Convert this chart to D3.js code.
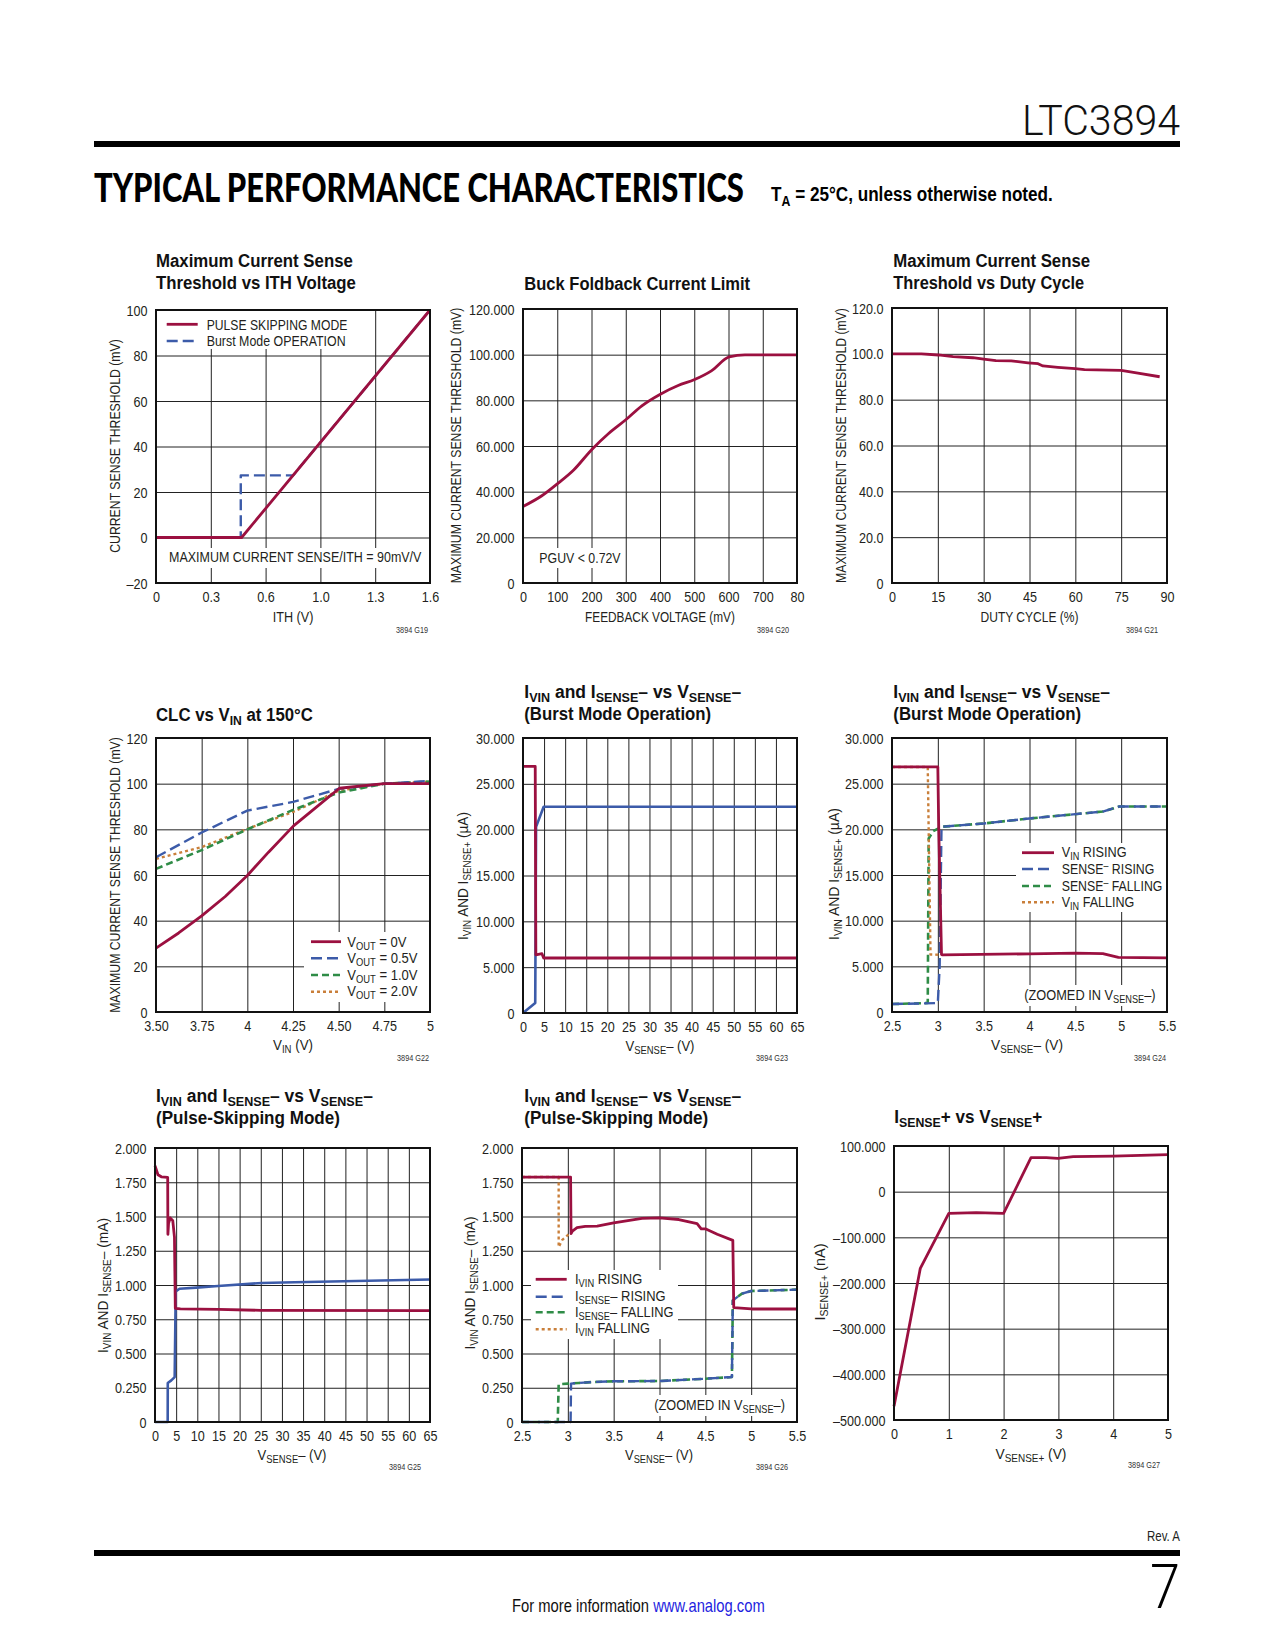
<!DOCTYPE html>
<html><head><meta charset="utf-8">
<script src="https://cdn.jsdelivr.net/npm/d3@7"></script>
<style>body{margin:0;background:#fff}svg{display:block}</style>
</head><body>
<svg id="page" width="1275" height="1650"></svg>
<script>
// ================= DATA =================
// G19 Maximum Current Sense Threshold vs ITH Voltage
const g19XTicks = [0, 0.32, 0.64, 0.96, 1.28, 1.6];
const g19XLabels = ["0", "0.3", "0.6", "1.0", "1.3", "1.6"];
const g19YTicks = [-20, 0, 20, 40, 60, 80, 100];
const g19YLabels = ["\u201320", "0", "20", "40", "60", "80", "100"];
const g19PulseX = [0, 0.50, 1.6];
const g19PulseY = [0, 0, 100];
const g19BurstX = [0, 0.495, 0.495, 0.80, 1.6];
const g19BurstY = [0, 0, 27.3, 27.3, 100];

// G20 Buck Foldback Current Limit
const g20XTicks = [0, 100, 200, 300, 400, 500, 600, 700, 800];
const g20XLabels = ["0", "100", "200", "300", "400", "500", "600", "700", "80"];
const g20YTicks = [0, 20, 40, 60, 80, 100, 120];
const g20YLabels = ["0", "20.000", "40.000", "60.000", "80.000", "100.000", "120.000"];
const g20FbX = [0, 55, 100, 148, 201, 250, 301, 347, 401, 453, 501, 550, 602, 648, 800];
const g20LimY = [33.5, 38.2, 43.4, 49.5, 58.5, 65.5, 71.6, 77.6, 82.7, 86.5, 89.1, 92.9, 99.0, 99.9, 99.9];

// G21 Maximum Current Sense Threshold vs Duty Cycle
const g21XTicks = [0, 15, 30, 45, 60, 75, 90];
const g21XLabels = ["0", "15", "30", "45", "60", "75", "90"];
const g21YTicks = [0, 20, 40, 60, 80, 100, 120];
const g21YLabels = ["0", "20.0", "40.0", "60.0", "80.0", "100.0", "120.0"];
const g21DutyX = [0, 9.6, 15.2, 20, 26.5, 30, 34, 39, 44.5, 47.8, 49.4, 54.3, 60, 63, 75, 80.5, 87.6];
const g21ThrY = [100, 100, 99.5, 98.8, 98.3, 97.7, 97.0, 96.9, 96.1, 95.7, 94.7, 94.1, 93.5, 93.1, 92.8, 91.6, 90.0];

// G22 CLC vs VIN at 150°C
const g22XTicks = [3.5, 3.75, 4, 4.25, 4.5, 4.75, 5];
const g22XLabels = ["3.50", "3.75", "4", "4.25", "4.50", "4.75", "5"];
const g22YTicks = [0, 20, 40, 60, 80, 100, 120];
const g22YLabels = ["0", "20", "40", "60", "80", "100", "120"];
const g22VinA = [3.5, 3.624, 3.75, 3.879, 4.0, 4.116, 4.253, 4.378, 4.504, 4.626, 4.75, 5];
const g22Vout0 = [28.0, 34.6, 42.1, 50.6, 59.8, 70.0, 81.5, 89.7, 98.0, 99.0, 100, 100];
const g22VinB = [3.5, 3.75, 4, 4.25, 4.5, 4.75, 5];
const g22Vout05 = [67.8, 78.6, 88.2, 92.0, 97.7, 100, 101.2];
const g22Vout10 = [62.7, 70.9, 80.0, 88.5, 96.1, 100, 100.9];
const g22Vout20 = [67.1, 72.2, 80.2, 87.6, 96.9, 100, 100.9];

// G23 IVIN and ISENSE- vs VSENSE- (Burst Mode)
const g23XTicks = [0, 5, 10, 15, 20, 25, 30, 35, 40, 45, 50, 55, 60, 65];
const g23XLabels = ["0", "5", "10", "15", "20", "25", "30", "35", "40", "45", "50", "55", "60", "65"];
const g23YTicks = [0, 5, 10, 15, 20, 25, 30];
const g23YLabels = ["0", "5.000", "10.000", "15.000", "20.000", "25.000", "30.000"];
const g23IvinX = [0, 2.9, 3.05, 4.5, 4.9, 65];
const g23IvinY = [26.9, 26.9, 6.35, 6.47, 6.0, 6.0];
const g23IsenX = [0, 2.9, 3.1, 4.9, 65];
const g23IsenY = [0, 1.1, 20.3, 22.5, 22.5];

// G24 zoomed burst mode
const g24XTicks = [2.5, 3, 3.5, 4, 4.5, 5, 5.5];
const g24XLabels = ["2.5", "3", "3.5", "4", "4.5", "5", "5.5"];
const g24YTicks = [0, 5, 10, 15, 20, 25, 30];
const g24YLabels = ["0", "5.000", "10.000", "15.000", "20.000", "25.000", "30.000"];
const g24VinRiseX = [2.5, 3.0, 3.01, 3.04, 3.05, 4.0, 4.5, 4.8, 4.97, 5.5];
const g24VinRiseY = [26.83, 26.83, 20.0, 6.3, 6.26, 6.37, 6.44, 6.4, 5.97, 5.93];
const g24SenRiseX = [2.5, 3.0, 3.02, 3.04, 3.5, 4.0, 4.5, 4.8, 4.98, 5.5];
const g24SenRiseY = [0.87, 0.98, 5.0, 20.28, 20.64, 21.19, 21.66, 21.95, 22.5, 22.5];
const g24SenFallX = [2.5, 2.89, 2.9, 2.95, 3.04, 3.5, 4.0, 4.5, 4.8, 4.98, 5.5];
const g24SenFallY = [0.87, 0.98, 19.0, 19.8, 20.28, 20.64, 21.19, 21.66, 21.95, 22.5, 22.5];
const g24VinFallX = [2.5, 2.89, 2.92, 3.05];
const g24VinFallY = [26.83, 26.83, 6.3, 6.26];

// G25 IVIN and ISENSE- vs VSENSE- (Pulse-Skipping)
const g25XTicks = [0, 5, 10, 15, 20, 25, 30, 35, 40, 45, 50, 55, 60, 65];
const g25XLabels = ["0", "5", "10", "15", "20", "25", "30", "35", "40", "45", "50", "55", "60", "65"];
const g25YTicks = [0, 0.25, 0.5, 0.75, 1, 1.25, 1.5, 1.75, 2];
const g25YLabels = ["0", "0.250", "0.500", "0.750", "1.000", "1.250", "1.500", "1.750", "2.000"];
const g25IvinX = [0, 0.7, 1.5, 3.0, 3.05, 3.2, 3.6, 4.2, 4.6, 4.8, 6, 15, 25, 65];
const g25IvinY = [1.87, 1.805, 1.79, 1.785, 1.37, 1.45, 1.49, 1.47, 1.35, 0.83, 0.825, 0.822, 0.815, 0.813];
const g25IsenX = [0, 3.0, 3.02, 3.85, 4.65, 4.9, 5.8, 9.8, 14.9, 25.2, 33, 65];
const g25IsenY = [0, 0, 0.285, 0.304, 0.328, 0.954, 0.973, 0.981, 0.993, 1.015, 1.02, 1.04];

// G26 zoomed pulse-skipping
const g26XTicks = [2.5, 3, 3.5, 4, 4.5, 5, 5.5];
const g26XLabels = ["2.5", "3", "3.5", "4", "4.5", "5", "5.5"];
const g26YTicks = [0, 0.25, 0.5, 0.75, 1, 1.25, 1.5, 1.75, 2];
const g26YLabels = ["0", "0.250", "0.500", "0.750", "1.000", "1.250", "1.500", "1.750", "2.000"];
const g26VinRiseX = [2.5, 3.03, 3.035, 3.05, 3.1, 3.19, 3.32, 3.5, 3.81, 4.0, 4.21, 4.41, 4.455, 4.5, 4.63, 4.8, 4.81, 5.0, 5.5];
const g26VinRiseY = [1.788, 1.788, 1.375, 1.394, 1.418, 1.428, 1.43, 1.453, 1.487, 1.49, 1.478, 1.448, 1.41, 1.41, 1.37, 1.326, 0.835, 0.825, 0.825];
const g26SenRiseX = [2.5, 3.03, 3.035, 3.12, 3.28, 3.5, 4.0, 4.5, 4.79, 4.8, 4.9, 5.0, 5.5];
const g26SenRiseY = [0, 0, 0.28, 0.285, 0.292, 0.297, 0.299, 0.316, 0.328, 0.888, 0.937, 0.956, 0.966];
const g26SenFallX = [2.5, 2.89, 2.9, 3.0, 3.12, 3.28, 3.5, 4.0, 4.5, 4.79, 4.8, 4.9, 5.0, 5.5];
const g26SenFallY = [0, 0, 0.275, 0.28, 0.285, 0.292, 0.297, 0.299, 0.316, 0.328, 0.888, 0.937, 0.956, 0.966];
const g26VinFallX = [2.5, 2.9, 2.9, 2.94, 3.01];
const g26VinFallY = [1.788, 1.788, 1.277, 1.33, 1.37];

// G27 ISENSE+ vs VSENSE+
const g27XTicks = [0, 1, 2, 3, 4, 5];
const g27XLabels = ["0", "1", "2", "3", "4", "5"];
const g27YTicks = [-500, -400, -300, -200, -100, 0, 100];
const g27YLabels = ["\u2013500.000", "\u2013400.000", "\u2013300.000", "\u2013200.000", "\u2013100.000", "0", "100.000"];
const g27VX = [0, 0.48, 1.0, 1.5, 2.0, 2.5, 2.78, 2.99, 3.27, 4.0, 5.0];
const g27IY = [-470, -168, -47.4, -46, -47.4, 74.5, 74.5, 73, 76.6, 78, 81];

// ================= DRAWING =================
const F = "'Liberation Sans', Arial, Helvetica, sans-serif";
const INK = '#231f20';
const TICK_K = 0.9;
const RED = '#9b1040', BLUE = '#3c5ba9', GREEN = '#2f8c47', ORANGE = '#c97f3a';
const ST = {
  red: {color: RED, dash: null, sw: 2.8},
  blueSolid: {color: BLUE, dash: null, sw: 2.6},
  blue: {color: BLUE, dash: '11,5', sw: 2.4},
  green: {color: GREEN, dash: '7,4', sw: 2.6},
  orange: {color: ORANGE, dash: '3,3', sw: 2.4}
};
const svg = d3.select('#page');

function txt(parent, x, y, parts, o = {}) {
  const fs = o.fs || 14;
  const g = parent.append('g').attr('transform', `translate(${x},${y})` + (o.rot ? ` rotate(${o.rot})` : ''));
  const t = g.append('text').attr('font-family', o.ff || F).attr('font-size', fs)
    .attr('font-weight', o.fw || 'normal').attr('fill', o.fill || INK)
    .attr('text-anchor', o.anchor || 'start');
  if (typeof parts === 'string') parts = [[parts]];
  let shift = 0;
  parts.forEach(p => {
    const ts = t.append('tspan').text(p[0]);
    let target = 0;
    if (p[1] === 'sub') { ts.attr('font-size', fs * 0.72); target = fs * 0.22; }
    if (p[1] === 'sup') { ts.attr('font-size', fs * 0.72); target = -fs * 0.34; }
    if (p[2]) ts.attr('fill', p[2]);
    if (target !== shift) { ts.attr('dy', target - shift); shift = target; }
  });
  if (o.w) {
    const w0 = t.node().getComputedTextLength();
    if (w0 > 0) t.attr('transform', `scale(${o.w / w0},1)`);
  }
  return t;
}

function panel(c) {
  const g = svg.append('g');
  const x = d3.scaleLinear().domain(c.xd).range([c.L, c.L + c.W]);
  const y = d3.scaleLinear().domain(c.yd).range([c.T + c.H, c.T]);
  const ax = g.append('g').attr('transform', `translate(0,${c.T + c.H})`)
    .call(d3.axisBottom(x).tickValues(c.xt).tickFormat((d, i) => c.xl[i]).tickSize(-c.H));
  const ay = g.append('g').attr('transform', `translate(${c.L},0)`)
    .call(d3.axisLeft(y).tickValues(c.yt).tickFormat((d, i) => c.yl[i]).tickSize(-c.W));
  [ax, ay].forEach(a => {
    a.select('.domain').remove();
    a.selectAll('line').attr('stroke', '#222').attr('stroke-width', 1);
    a.selectAll('text').attr('font-family', F).attr('font-size', 14).attr('fill', INK)
      .attr('transform', `scale(${TICK_K},1)`);
  });
  ax.selectAll('text').attr('y', 19.5).attr('dy', null);
  ay.selectAll('text').attr('x', -8.5 / TICK_K).attr('dy', '0.36em');
  (c.boxes || []).forEach(b => g.append('rect').attr('x', b[0]).attr('y', b[1])
    .attr('width', b[2]).attr('height', b[3]).attr('fill', '#fff'));
  c.series.forEach(s => {
    const line = d3.line().x(d => x(d[0])).y(d => y(d[1])).curve(s.curve || d3.curveLinear);
    g.append('path').datum(d3.zip(s.x, s.y)).attr('d', line)
      .attr('fill', 'none').attr('stroke', s.st.color).attr('stroke-width', s.st.sw)
      .attr('stroke-dasharray', s.st.dash).attr('stroke-linejoin', 'round');
  });
  g.append('rect').attr('x', c.L).attr('y', c.T).attr('width', c.W).attr('height', c.H)
    .attr('fill', 'none').attr('stroke', '#111').attr('stroke-width', 2);
  (c.legBox || []).forEach(b => g.append('rect').attr('x', b[0]).attr('y', b[1])
    .attr('width', b[2]).attr('height', b[3]).attr('fill', '#fff'));
  (c.legend || []).forEach(it => {
    g.append('line').attr('x1', it.x1).attr('x2', it.x2).attr('y1', it.ly).attr('y2', it.ly)
      .attr('stroke', it.st.color).attr('stroke-width', it.st.sw).attr('stroke-dasharray', it.st.dash);
    txt(g, it.tx, it.ty, it.label, {fs: 14, w: it.w});
  });
  // texts
  txt(svg, c.xtx, c.xty, c.xTitle, {anchor: 'middle', w: c.xtw});
  txt(svg, c.ytx, c.yty, c.yTitle, {anchor: 'middle', rot: -90, w: c.ytw});
  txt(svg, c.codeX, c.codeY, c.code, {anchor: 'end', fs: 8.5, fill: '#333', w: c.codeW || 32});
  c.titles.forEach(tl => txt(svg, tl.x, tl.y, tl.t, {fw: 'bold', fs: 18.5, w: tl.w, fill: '#111'}));
  return g;
}

// ---------- header / footer ----------
txt(svg, 1180, 134.7, 'LTC3894', {anchor: 'end', ff: 'Roboto, sans-serif', fw: 300, fs: 42, w: 158, fill: '#111'});
svg.append('rect').attr('x', 94).attr('y', 141).attr('width', 1086).attr('height', 6).attr('fill', '#000');
txt(svg, 94, 202, 'TYPICAL PERFORMANCE CHARACTERISTICS', {ff: 'Lato, sans-serif', fw: 900, fs: 39, w: 650, fill: '#000'});
txt(svg, 771, 201, [['T'], ['A', 'sub'], [' = 25\u00B0C, unless otherwise noted.']], {fw: 'bold', fs: 21, w: 282, fill: '#000'});
txt(svg, 1180, 1541, 'Rev. A', {anchor: 'end', fs: 14, w: 33});
svg.append('rect').attr('x', 94).attr('y', 1550).attr('width', 1086).attr('height', 6).attr('fill', '#000');
txt(svg, 1180, 1608, '7', {anchor: 'end', ff: 'Roboto, sans-serif', fw: 300, fs: 62, w: 30, fill: '#000'});
txt(svg, 512, 1612, [['For more information '], ['www.analog.com', null, '#1f1fe0']], {fs: 18, w: 253, fill: '#111'});

const ML = 'MAXIMUM CURRENT SENSE THRESHOLD (mV)';
const vsm = [['V'], ['SENSE', 'sub'], ['\u2013 (V)']];
const titleIV = [['I'], ['VIN', 'sub'], [' and I'], ['SENSE', 'sub'], ['\u2013 vs V'], ['SENSE', 'sub'], ['\u2013']];
const yIVua = [['I'], ['VIN', 'sub'], [' AND I'], ['SENSE+', 'sub'], [' (\u00B5A)']];
const yIVma = [['I'], ['VIN', 'sub'], [' AND I'], ['SENSE', 'sub'], ['\u2013 (mA)']];
const zoomed = [['(ZOOMED IN V'], ['SENSE', 'sub'], ['\u2013)']];

// G19
panel({L: 156, T: 310, W: 274, H: 273, xd: [0, 1.6], yd: [-20, 100],
  xt: g19XTicks, xl: g19XLabels, yt: g19YTicks, yl: g19YLabels,
  boxes: [[165, 548, 260, 20]],
  series: [{x: g19BurstX, y: g19BurstY, st: ST.blue}, {x: g19PulseX, y: g19PulseY, st: ST.red}],
  legBox: [[157, 311, 193, 38]],
  legend: [
    {x1: 166.7, x2: 197.7, ly: 324.3, st: ST.red, tx: 206.7, ty: 330, label: 'PULSE SKIPPING MODE', w: 140.7},
    {x1: 166.7, x2: 197.7, ly: 341, st: ST.blue, tx: 206.7, ty: 346, label: 'Burst Mode OPERATION', w: 139}],
  xTitle: 'ITH (V)', xtx: 293, xty: 622, xtw: 40.7,
  yTitle: 'CURRENT SENSE THRESHOLD (mV)', ytx: 120, yty: 446, ytw: 214,
  code: '3894 G19', codeX: 428, codeY: 633,
  titles: [{x: 156, y: 266.7, t: 'Maximum Current Sense', w: 197}, {x: 156, y: 289.3, t: 'Threshold vs ITH Voltage', w: 200}]});
txt(svg, 169, 561.7, 'MAXIMUM CURRENT SENSE/ITH = 90mV/V', {fs: 14, w: 252.7});

// G20
panel({L: 523, T: 309, W: 274, H: 274, xd: [0, 800], yd: [0, 120],
  xt: g20XTicks, xl: g20XLabels, yt: g20YTicks, yl: g20YLabels,
  boxes: [[535, 548, 90, 20]],
  series: [{x: g20FbX, y: g20LimY, st: ST.red, curve: d3.curveMonotoneX}],
  xTitle: 'FEEDBACK VOLTAGE (mV)', xtx: 660, xty: 622, xtw: 150,
  yTitle: ML, ytx: 461, yty: 445.5, ytw: 276,
  code: '3894 G20', codeX: 789, codeY: 633,
  titles: [{x: 524.3, y: 290, t: 'Buck Foldback Current Limit', w: 226}]});
txt(svg, 539.3, 562.7, 'PGUV < 0.72V', {fs: 14, w: 81.4});

// G21
panel({L: 892, T: 308, W: 275, H: 275, xd: [0, 90], yd: [0, 120],
  xt: g21XTicks, xl: g21XLabels, yt: g21YTicks, yl: g21YLabels,
  series: [{x: g21DutyX, y: g21ThrY, st: ST.red}],
  xTitle: 'DUTY CYCLE (%)', xtx: 1029.5, xty: 622, xtw: 98,
  yTitle: ML, ytx: 846, yty: 445.5, ytw: 275,
  code: '3894 G21', codeX: 1158, codeY: 633,
  titles: [{x: 893.3, y: 266.7, t: 'Maximum Current Sense', w: 197}, {x: 893.3, y: 289.3, t: 'Threshold vs Duty Cycle', w: 191}]});

// G22
panel({L: 156, T: 738, W: 274, H: 274, xd: [3.5, 5], yd: [0, 120],
  xt: g22XTicks, xl: g22XLabels, yt: g22YTicks, yl: g22YLabels,
  series: [{x: g22VinB, y: g22Vout20, st: ST.orange}, {x: g22VinB, y: g22Vout10, st: ST.green},
    {x: g22VinB, y: g22Vout05, st: ST.blue}, {x: g22VinA, y: g22Vout0, st: ST.red}],
  legBox: [[304, 932, 125, 70]],
  legend: [
    {x1: 311, x2: 341, ly: 941.7, st: ST.red, tx: 347.3, ty: 947.3, label: [['V'], ['OUT', 'sub'], [' = 0V']], w: 59.3},
    {x1: 311, x2: 341, ly: 958.3, st: ST.blue, tx: 347.3, ty: 963.3, label: [['V'], ['OUT', 'sub'], [' = 0.5V']], w: 70.3},
    {x1: 311, x2: 341, ly: 975, st: ST.green, tx: 347.3, ty: 980, label: [['V'], ['OUT', 'sub'], [' = 1.0V']], w: 70.3},
    {x1: 311, x2: 341, ly: 991.7, st: ST.orange, tx: 347.3, ty: 996.3, label: [['V'], ['OUT', 'sub'], [' = 2.0V']], w: 70.3}],
  xTitle: [['V'], ['IN', 'sub'], [' (V)']], xtx: 293, xty: 1050, xtw: 40,
  yTitle: ML, ytx: 120, yty: 875, ytw: 276,
  code: '3894 G22', codeX: 429, codeY: 1061,
  titles: [{x: 156, y: 720.7, t: [['CLC vs V'], ['IN', 'sub'], [' at 150\u00B0C']], w: 157}]});

// G23
panel({L: 523, T: 738, W: 274, H: 275, xd: [0, 65], yd: [0, 30],
  xt: g23XTicks, xl: g23XLabels, yt: g23YTicks, yl: g23YLabels,
  series: [{x: g23IsenX, y: g23IsenY, st: ST.blueSolid}, {x: g23IvinX, y: g23IvinY, st: ST.red}],
  xTitle: vsm, xtx: 660, xty: 1051, xtw: 69,
  yTitle: yIVua, ytx: 468, yty: 876, ytw: 128,
  code: '3894 G23', codeX: 788, codeY: 1061,
  titles: [{x: 524.3, y: 697.7, t: titleIV, w: 217}, {x: 524.3, y: 719.7, t: '(Burst Mode Operation)', w: 187}]});

// G24
panel({L: 892, T: 738, W: 275, H: 274, xd: [2.5, 5.5], yd: [0, 30],
  xt: g24XTicks, xl: g24XLabels, yt: g24YTicks, yl: g24YLabels,
  boxes: [[1020, 985, 140, 21]],
  series: [{x: g24SenFallX, y: g24SenFallY, st: ST.green}, {x: g24SenRiseX, y: g24SenRiseY, st: ST.blue},
    {x: g24VinFallX, y: g24VinFallY, st: ST.orange}, {x: g24VinRiseX, y: g24VinRiseY, st: ST.red}],
  legBox: [[1016, 843, 150, 69]],
  legend: [
    {x1: 1022, x2: 1054, ly: 852.7, st: ST.red, tx: 1061.7, ty: 857.3, label: [['V'], ['IN', 'sub'], [' RISING']], w: 65},
    {x1: 1022, x2: 1054, ly: 869, st: ST.blue, tx: 1061.7, ty: 874, label: [['SENSE'], ['\u2013', 'sup'], [' RISING']], w: 92.7},
    {x1: 1022, x2: 1054, ly: 886, st: ST.green, tx: 1061.7, ty: 891, label: [['SENSE'], ['\u2013', 'sup'], [' FALLING']], w: 100.7},
    {x1: 1022, x2: 1054, ly: 902.3, st: ST.orange, tx: 1061.7, ty: 907.3, label: [['V'], ['IN', 'sub'], [' FALLING']], w: 72.7}],
  xTitle: [['V'], ['SENSE', 'sub'], ['\u2013  (V)']], xtx: 1027, xty: 1050, xtw: 72,
  yTitle: yIVua, ytx: 839, yty: 874, ytw: 132,
  code: '3894 G24', codeX: 1166, codeY: 1061,
  titles: [{x: 893.3, y: 697.7, t: titleIV, w: 216.7}, {x: 893.3, y: 719.7, t: '(Burst Mode Operation)', w: 188}]});
txt(svg, 1024.3, 1000, zoomed, {fs: 14, w: 131.4});

// G25
panel({L: 155, T: 1148, W: 275, H: 274, xd: [0, 65], yd: [0, 2],
  xt: g25XTicks, xl: g25XLabels, yt: g25YTicks, yl: g25YLabels,
  series: [{x: g25IsenX, y: g25IsenY, st: ST.blueSolid}, {x: g25IvinX, y: g25IvinY, st: ST.red}],
  xTitle: vsm, xtx: 292, xty: 1460, xtw: 69,
  yTitle: yIVma, ytx: 108, yty: 1285.5, ytw: 135,
  code: '3894 G25', codeX: 421, codeY: 1470,
  titles: [{x: 156, y: 1101.7, t: titleIV, w: 217}, {x: 156, y: 1123.5, t: '(Pulse-Skipping Mode)', w: 184}]});

// G26
panel({L: 522, T: 1148, W: 275, H: 274, xd: [2.5, 5.5], yd: [0, 2],
  xt: g26XTicks, xl: g26XLabels, yt: g26YTicks, yl: g26YLabels,
  boxes: [[650, 1395, 142, 21]],
  series: [{x: g26SenFallX, y: g26SenFallY, st: ST.green}, {x: g26SenRiseX, y: g26SenRiseY, st: ST.blue},
    {x: g26VinFallX, y: g26VinFallY, st: ST.orange}, {x: g26VinRiseX, y: g26VinRiseY, st: ST.red}],
  legBox: [[531, 1270, 147, 69]],
  legend: [
    {x1: 535.7, x2: 566.7, ly: 1279.3, st: ST.red, tx: 575, ty: 1284, label: [['I'], ['VIN', 'sub'], [' RISING']], w: 67.3},
    {x1: 535.7, x2: 566.7, ly: 1296.7, st: ST.blue, tx: 575, ty: 1300.7, label: [['I'], ['SENSE', 'sub'], ['\u2013 RISING']], w: 90.7},
    {x1: 535.7, x2: 566.7, ly: 1312.3, st: ST.green, tx: 575, ty: 1316.7, label: [['I'], ['SENSE', 'sub'], ['\u2013 FALLING']], w: 98.7},
    {x1: 535.7, x2: 566.7, ly: 1329.3, st: ST.orange, tx: 575, ty: 1333.3, label: [['I'], ['VIN', 'sub'], [' FALLING']], w: 75}],
  xTitle: vsm, xtx: 659, xty: 1460, xtw: 68,
  yTitle: yIVma, ytx: 475, yty: 1283, ytw: 133,
  code: '3894 G26', codeX: 788, codeY: 1470,
  titles: [{x: 524.3, y: 1101.7, t: titleIV, w: 217}, {x: 524.3, y: 1123.5, t: '(Pulse-Skipping Mode)', w: 184}]});
txt(svg, 654.3, 1410, zoomed, {fs: 14, w: 130.7});

// G27
panel({L: 894, T: 1146, W: 274, H: 274, xd: [0, 5], yd: [-500, 100],
  xt: g27XTicks, xl: g27XLabels, yt: g27YTicks, yl: g27YLabels,
  series: [{x: g27VX, y: g27IY, st: ST.red}],
  xTitle: [['V'], ['SENSE+', 'sub'], [' (V)']], xtx: 1031, xty: 1459, xtw: 71,
  yTitle: [['I'], ['SENSE+', 'sub'], ['  (nA)']], ytx: 825, yty: 1282, ytw: 77,
  code: '3894 G27', codeX: 1160, codeY: 1468,
  titles: [{x: 894.3, y: 1122.7, t: [['I'], ['SENSE', 'sub'], ['+ vs V'], ['SENSE', 'sub'], ['+']], w: 148}]});
</script>
</body></html>
